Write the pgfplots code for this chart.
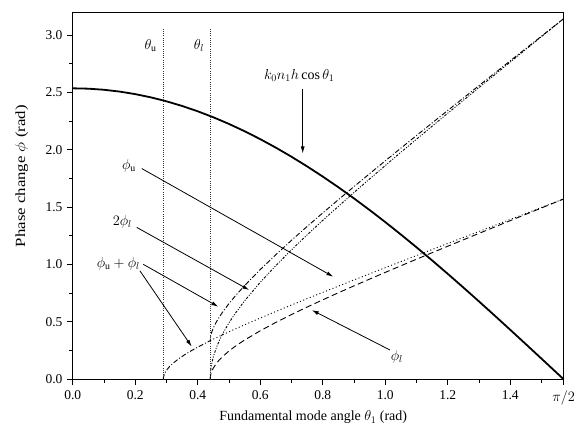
\documentclass[border=0pt,12pt]{standalone}
\usepackage{graphicx}
\usepackage{pgfplots}
\pgfplotsset{compat=1.18}
\usepackage{fontspec}
\setmainfont{Liberation Serif}
\usetikzlibrary{arrows.meta}
\begin{document}
\begin{tikzpicture}
\begin{axis}[
  width=491pt, height=367.3pt, scale only axis,
  xmin=0, xmax=1.5708, ymin=0, ymax=3.2,
  axis line style={line width=0.8pt},
  every tick/.style={line width=0.8pt, black},
  tick align=outside, tick pos=left,
  major tick length=6pt, minor tick length=3.5pt,
  tick label style={font=\fontsize{13.5}{15}\selectfont},
  xtick={0,0.2,0.4,0.6,0.8,1.0,1.2,1.4,1.5708},
  xticklabels={0.0,0.2,0.4,0.6,0.8,1.0,1.2,1.4,$\pi/2$},
  minor xtick={0.1,0.3,0.5,0.7,0.9,1.1,1.3,1.5},
  ytick={0,0.5,1,1.5,2,2.5,3},
  minor ytick={0.25,0.75,1.25,1.75,2.25,2.75},
  /pgf/number format/assume math mode=true,
  y tick label style={/pgf/number format/.cd, fixed, fixed zerofill, precision=1},
  x tick label style={yshift=-1.5pt},
  xlabel={Fundamental mode angle $\theta_1$ (rad)},
  ylabel={\scalebox{1.2}[1]{Phase change $\phi$ (rad)}},
  label style={font=\fontsize{14}{16}\selectfont},
  xlabel style={at={(axis description cs:0.49,0)}, anchor=base, yshift=-41.7pt},
  ylabel style={at={(axis description cs:0,0.553)}, anchor=center, yshift=51pt},
  clip=false,
]
% k0 n1 h cos(theta1)
\addplot[black, line width=1.8pt] table {
0 2.5350
0.05 2.5318
0.10 2.5223
0.15 2.5065
0.20 2.4845
0.25 2.4562
0.30 2.4218
0.35 2.3813
0.40 2.3349
0.45 2.2826
0.50 2.2247
0.55 2.1611
0.60 2.0922
0.65 2.0181
0.70 1.9389
0.75 1.8548
0.80 1.7662
0.85 1.6731
0.90 1.5758
0.95 1.4746
1.00 1.3697
1.05 1.2613
1.10 1.1499
1.15 1.0355
1.20 0.9186
1.25 0.7993
1.30 0.6781
1.35 0.5552
1.40 0.4309
1.45 0.3055
1.50 0.1793
1.5708 0
};
% phi_u (dotted)
\addplot[black, line width=0.9pt, dash pattern=on 1pt off 2.5pt] table {
0.44 0.3357
0.45 0.3491
0.46 0.3623
0.47 0.3753
0.48 0.3881
0.50 0.4133
0.52 0.4379
0.55 0.4742
0.60 0.5330
0.65 0.5903
0.70 0.6466
0.75 0.7020
0.80 0.7568
0.85 0.8110
0.90 0.8649
0.95 0.9185
1.00 0.9718
1.05 1.0248
1.10 1.0777
1.15 1.1304
1.20 1.1830
1.25 1.2355
1.30 1.2879
1.35 1.3402
1.40 1.3925
1.45 1.4447
1.50 1.4969
1.5708 1.5708
};
% phi_l (dashed)
\addplot[black, line width=0.9pt, dash pattern=on 6pt off 3.5pt] table {
0.44 0
0.441 0.0307
0.442 0.0435
0.445 0.0688
0.45 0.0976
0.46 0.1388
0.47 0.1709
0.48 0.1985
0.50 0.2457
0.52 0.2867
0.55 0.3415
0.60 0.4221
0.65 0.4952
0.70 0.5636
0.75 0.6288
0.80 0.6919
0.85 0.7533
0.90 0.8134
0.95 0.8725
1.00 0.9308
1.05 0.9885
1.10 1.0456
1.15 1.1024
1.20 1.1587
1.25 1.2148
1.30 1.2707
1.35 1.3263
1.40 1.3818
1.45 1.4372
1.50 1.4925
1.5708 1.5708
};
% phi_u + phi_l (dash-dot)
\addplot[black, line width=0.9pt, dash pattern=on 5pt off 2pt on 1pt off 2pt] table {
0.29 0
0.2905 0.0173
0.291 0.0244
0.295 0.0549
0.30 0.0779
0.31 0.1111
0.32 0.1372
0.34 0.1800
0.36 0.2164
0.38 0.2491
0.40 0.2795
0.42 0.3082
0.44 0.3357
0.441 0.3678
0.442 0.3819
0.445 0.4112
0.45 0.4467
0.46 0.5011
0.47 0.5462
0.48 0.5865
0.50 0.6589
0.52 0.7247
0.55 0.8157
0.60 0.9551
0.65 1.0855
0.70 1.2101
0.75 1.3308
0.80 1.4487
0.85 1.5643
0.90 1.6783
0.95 1.7910
1.00 1.9026
1.05 2.0133
1.10 2.1234
1.15 2.2328
1.20 2.3417
1.25 2.4503
1.30 2.5585
1.35 2.6665
1.40 2.7743
1.45 2.8819
1.50 2.9894
1.5708 3.1416
};
% 2 phi_l (dash-dot-dot)
\addplot[black, line width=0.9pt, dash pattern=on 2.5pt off 1.5pt on 1pt off 1.5pt on 1pt off 1.5pt] table {
0.44 0
0.441 0.0614
0.442 0.0869
0.445 0.1376
0.45 0.1952
0.46 0.2776
0.47 0.3418
0.48 0.3969
0.50 0.4914
0.52 0.5734
0.55 0.6829
0.60 0.8442
0.65 0.9903
0.70 1.1271
0.75 1.2577
0.80 1.3837
0.85 1.5065
0.90 1.6268
0.95 1.7450
1.00 1.8616
1.05 1.9770
1.10 2.0913
1.15 2.2047
1.20 2.3175
1.25 2.4296
1.30 2.5413
1.35 2.6526
1.40 2.7636
1.45 2.8744
1.50 2.9851
1.5708 3.1416
};
% critical angles
\addplot[black!80, line width=0.45pt, dash pattern=on 0.6pt off 1.6pt] coordinates {(0.29,0) (0.29,3.055)};
\addplot[black!80, line width=0.45pt, dash pattern=on 0.6pt off 1.6pt] coordinates {(0.44,0) (0.44,3.055)};
% labels
\begin{scope}[every node/.style={font=\fontsize{14}{16}\selectfont}]
\node at (axis cs:0.249,2.91) {$\theta_{\mathrm{u}}$};
\node at (axis cs:0.404,2.91) {$\theta_l$};
\node at (axis cs:0.725,2.648) {$k_0n_1h\cos\theta_1$};
\node at (axis cs:0.180,1.862) {$\phi_{\mathrm{u}}$};
\node at (axis cs:0.159,1.372) {$2\phi_l$};
\node at (axis cs:0.146,1.003) {$\phi_{\mathrm{u}}+\phi_l$};
\node at (axis cs:1.037,0.197) {$\phi_l$};
\end{scope}
% arrows
\tikzset{annarrow/.style={-{Latex[length=7pt,width=4pt]}, line width=0.8pt}}
\draw[annarrow] (axis cs:0.736,2.533) -- (axis cs:0.736,1.967);
\draw[annarrow] (axis cs:0.221,1.836) -- (axis cs:0.834,0.893);
\draw[annarrow] (axis cs:0.205,1.323) -- (axis cs:0.565,0.777);
\draw[annarrow] (axis cs:0.226,1.001) -- (axis cs:0.466,0.632);
\draw[annarrow] (axis cs:0.215,0.945) -- (axis cs:0.381,0.284);
\draw[annarrow] (axis cs:1.015,0.255) -- (axis cs:0.765,0.603);
\end{axis}
\pgfresetboundingbox
\path[use as bounding box] ([xshift=-72.7pt,yshift=-45.7pt]current axis.south west) rectangle ([xshift=10.4pt,yshift=12pt]current axis.north east);
\end{tikzpicture}
\end{document}
